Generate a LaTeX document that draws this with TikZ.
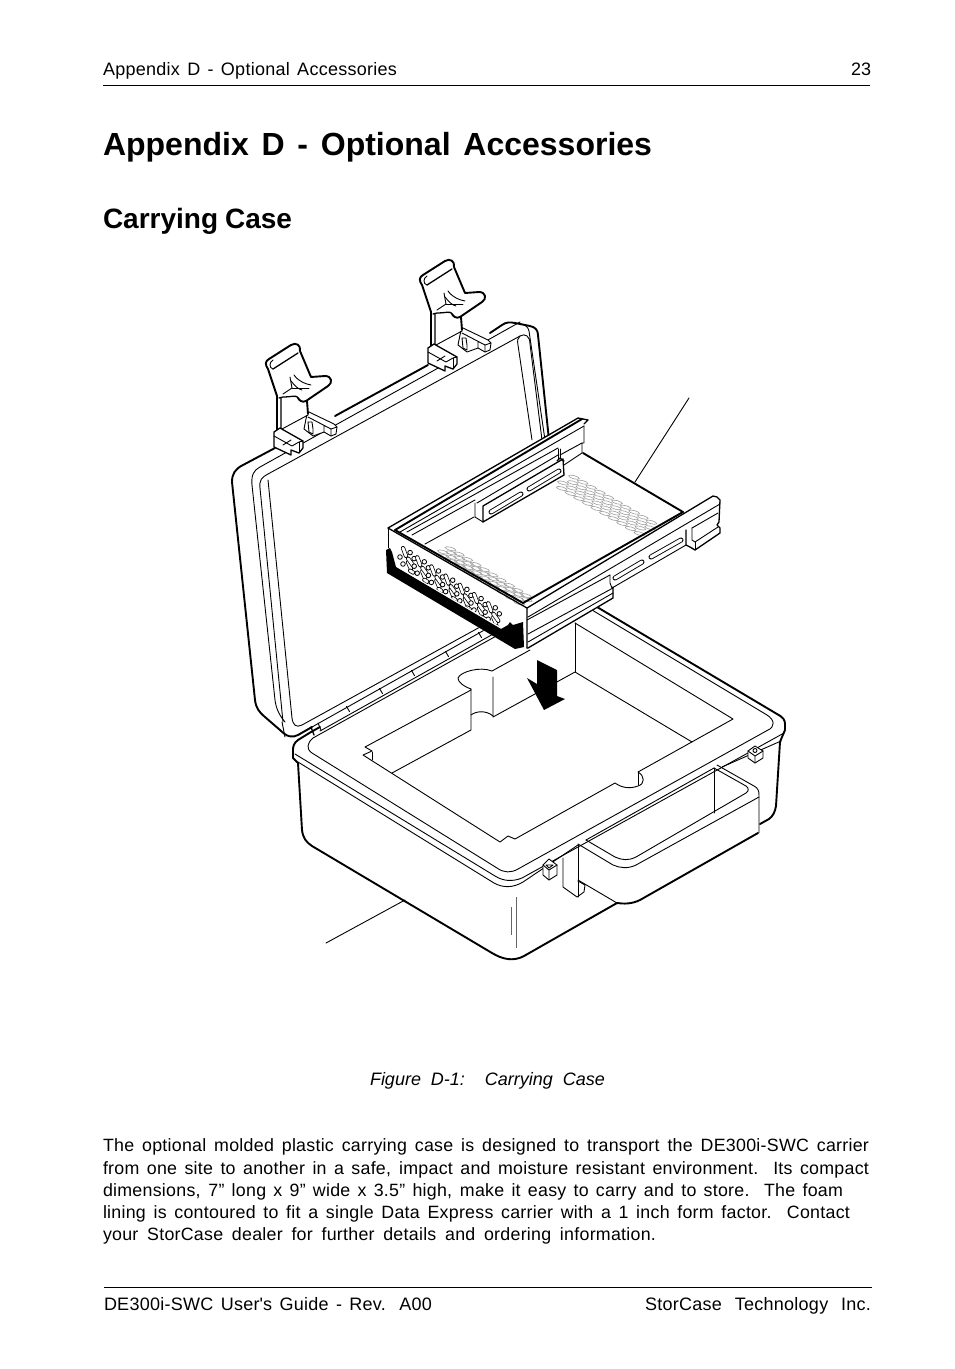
\documentclass[tikz,border=0pt]{standalone}
\usepackage{fontspec}
\setmainfont{Liberation Sans}
\newfontfamily\bodyf[LetterSpace=1.5]{Liberation Sans}
\newcommand{\strq}{\XeTeXglyph\XeTeXcharglyph"27\relax}
\tikzset{
  x=1pt,y=-1pt,
  fin/.style={line width=0.9pt,line join=round,line cap=round},
  med/.style={line width=1.3pt,line join=round,line cap=round},
  hvy/.style={line width=1.9pt,line join=round,line cap=round},
  txt/.style={anchor=base west,inner sep=0pt,outer sep=0pt},
  mold/.style={line width=0.9pt,black!60},
  rule/.style={line width=0.9pt},
  vent/.style={line width=0.8pt},
  mesh/.style={line width=0.6pt,black!38},
  latchpic/.pic={
    % rear block
    \draw[fin,fill=white] (461,330)--(463,328)--(488,340)--(491,343)--(490,350)--(485,352)--(478,348)--(467,352)--(458,345)--cycle;
    \draw[fin] (462,333)--(485,345)--(491,343) (485,345)--(485,352) (478,342)--(478,348);
    % body
    \fill[white] (422,285) .. controls (419,281) and (419,277) .. (423,275) -- (445,261) .. controls (450,258) and (455,261) .. (454,267)
       -- (465,293) -- (479,292) .. controls (486,292) and (487,299) .. (482,302) -- (460,317) -- (462,330) -- (436,346) -- (431,346) -- (431,312) -- cycle;
    \draw[hvy] (431,346) -- (431,312) -- (422,285) .. controls (419,281) and (419,277) .. (423,275) -- (445,261) .. controls (450,258) and (455,261) .. (454,267)
       -- (465,293) -- (479,292) .. controls (486,292) and (487,299) .. (482,302) -- (460,317) .. controls (456,319) and (453,316) .. (452,314);
    \draw[med] (452,313.5) .. controls (450,311) and (445,313) .. (437,313) -- (433,314) (435,314)--(435,345);
    \draw[hvy] (461,317)--(462,330);
    \draw[fin] (427,285) .. controls (423,284) and (423,278) .. (427,276);
    \draw[med] (427,285)--(452,269);
    \draw[fin] (444,293)--(446,304)--(437,310);
    \draw[fin] (446,304)--(463,304);
    \draw[fin] (448,291) .. controls (453,298) and (460,300) .. (465,301);
    \draw[fin] (445,297) .. controls (449,302) and (452,305) .. (456,306);
    % front block
    \draw[fin] (436,345)--(462,331);
    \draw[med,fill=white] (428,348)--(434,344)--(457,357)--(457,364)--(453,369)--(445,366)--(445,371)--(428,363)--cycle;
    \draw[fin] (428,352)--(446,362)--(453,358)--(457,357);
    \draw[fin] (453,358)--(453,369);
    \draw[fin] (437,361)--(445,356);
    \draw[fin,fill=white] (462,338)--(466,338)--(467,345)--(467,350)--(463,348)--cycle;
  }
}
\newcommand{\capsule}[4]{%
  \draw[line width=5pt,line cap=round] (#1,#2)--(#3,#4);
  \draw[white,line width=3.2pt,line cap=round] (#1,#2)--(#3,#4);}
\newcommand{\ventcap}[4]{%
  \draw[line width=4.2pt,line cap=round] (#1,#2)--(#3,#4);
  \draw[white,line width=2.7pt,line cap=round] (#1,#2)--(#3,#4);}
\begin{document}
\begin{tikzpicture}
\useasboundingbox (0,0) rectangle (954,1369);
% ---- page text
\node[txt] (runhead) at (103,75) {\fontsize{18}{20}\selectfont\bodyf\makebox[294pt][s]{Appendix D - Optional Accessories}};
\node[txt] (pageno) at (851,75) {\fontsize{18}{20}\selectfont 23};
\draw[rule] (103,85)--(870,85);
\node[txt] (title) at (103,155) {\fontsize{32}{36}\selectfont\bfseries\makebox[549pt][s]{Appendix D - Optional Accessories}};
\node[txt] (heading) at (103,228) {\fontsize{28}{30}\selectfont\bfseries\makebox[189pt][s]{Carrying Case}};
\node[txt] (caption) at (370,1085) {\fontsize{18}{20}\selectfont\itshape\makebox[235pt][s]{Figure D-1:\ \ Carrying Case}};
\node[txt] (b1) at (103,1151) {\fontsize{17.8}{20}\selectfont\bodyf\makebox[766pt][s]{The optional molded plastic carrying case is designed to transport the DE300i-SWC carrier}};
\node[txt] (b2) at (103,1174) {\fontsize{17.8}{20}\selectfont\bodyf\makebox[766pt][s]{from one site to another in a safe, impact and moisture resistant environment.\ \ Its compact}};
\node[txt] (b3) at (103,1196) {\fontsize{17.8}{20}\selectfont\bodyf\makebox[740pt][s]{dimensions, 7” long x 9” wide x 3.5” high, make it easy to carry and to store.\ \ The foam}};
\node[txt] (b4) at (103,1218) {\fontsize{17.8}{20}\selectfont\bodyf\makebox[747pt][s]{lining is contoured to fit a single Data Express carrier with a 1 inch form factor.\ \ Contact}};
\node[txt] (b5) at (103,1240) {\fontsize{17.8}{20}\selectfont\bodyf\makebox[553pt][s]{your StorCase dealer for further details and ordering information.}};
\draw[rule] (104,1287)--(872,1287);
\node[txt] (footl) at (104,1310) {\fontsize{18}{20}\selectfont\bodyf\makebox[328pt][s]{DE300i-SWC User\strq s Guide - Rev. A00}};
\node[txt] (footr) at (645,1310) {\fontsize{18}{20}\selectfont\bodyf\makebox[226pt][s]{StorCase Technology Inc.}};

% ---- leaders
\coordinate (leadA) at (689,398); \coordinate (leadAe) at (635,482);
\coordinate (leadB) at (326,943); \coordinate (leadBe) at (405,900);
\draw[fin] (leadA)--(leadAe);
\draw[fin] (leadB)--(leadBe);

% ---- lid
\draw[hvy] (275,448)--(243,465) .. controls (235,469) and (232,474) .. (232,482)
  -- (255,700) .. controls (256,708) and (259,712) .. (265,717) -- (280,730) .. controls (287,737) and (292,738) .. (298,735) -- (312,727);
\draw[hvy] (428,365)--(335,416);
\draw[hvy] (490,333)--(502,325) .. controls (506,322) and (510,322) .. (515,323)--(530,326) .. controls (535,327) and (538,330) .. (538,335) -- (549,440);
\draw[fin] (252,485) .. controls (251,475) and (254,470) .. (260,467) -- (278,457);
\draw[fin] (278,457)--(440,367);
\draw[fin] (470,350)--(520,322);
\draw[fin] (521,324) .. controls (526,325) and (528,327) .. (529,331) -- (545,440);
\draw[fin] (260,488) .. controls (259,480) and (262,477) .. (268,474) -- (520,336) .. controls (525,333) and (530,336) .. (530,344) -- (542,440);
\draw[fin] (520,336) .. controls (518,338) and (517,340) .. (518,345) -- (532,440);
\draw[fin] (252,485) -- (275,700) .. controls (276,708) and (279,715) .. (285,722);
\draw[fin] (282,722) -- (285,737);
\draw[fin] (260,488) -- (283,722) ;
\draw[fin] (268,480) -- (292,718) .. controls (293,725) and (296,728) .. (302,725) -- (500,616);
\draw[fin] (312,727)--(520,610);
\draw[fin] (320,731)--(520,619);
\foreach \tx/\ty in {348/709,381/691,413/673,447/654,480/635}
  \draw[fin] (\tx-1.5,\ty-2.5)--(\tx+1.5,\ty+2.5);
\draw[fin] (318,723)--(321,730);
\draw[med] (311,727)--(314,735);

% ---- case base
\draw[hvy] (320,727)--(311,732)--(298,740) .. controls (294,743) and (293,746) .. (293,750) -- (293,758) -- (298,763)
   -- (302,830) .. controls (303,838) and (306,842) .. (312,846) -- (492,953) .. controls (502,959) and (513,962) .. (524,956) -- (617,903) ;
\draw[hvy] (597,607)--(777,714) .. controls (783,717) and (785,720) .. (785,724) -- (785,730) -- (782,737) -- (780,742) -- (776,806) .. controls (775,812) and (773,816) .. (769,819) -- (760,824);
\draw[fin] (592,610)--(767,715) .. controls (775,720) and (775,727) .. (768,730) -- (518,869) .. controls (511,873) and (504,873) .. (497,868) -- (312,753) .. controls (306,749) and (307,743) .. (313,738)--(525,620);
\draw[fin] (784,733)--(522,878) .. controls (512,882) and (503,881) .. (495,876) -- (295,754);
\draw[fin] (781,741)--(722,767);
\draw[fin] (714,768)--(586,840);
\draw[fin] (578,845)--(523,882) .. controls (513,888) and (503,888) .. (494,883) -- (298,762);
% mold lines
\draw[mold] (516,897)--(516,948);
\draw[mold] (511,907)--(511,935);
% foam cavity
\draw[fin] (575,623)--(733,719)--(638,772)
   .. controls (645,776) and (645,784) .. (638,786) .. controls (630,789) and (622,788) .. (615,783)
   -- (515,839) -- (508,836) -- (500,842) -- (363,755) -- (372,751) -- (365,747) -- (471,690) -- (471,689)
   .. controls (463,686) and (458,682) .. (458,678) .. controls (460,672) and (480,666) .. (492,671) -- (530,650);
\draw[fin] (372,752)--(372,760);
\draw[fin] (471,689)--(471,730)--(392,773);
\draw[fin] (471,715) .. controls (476,711) and (486,710) .. (493,716);
\draw[fin] (493,677)--(493,717)--(575,672)--(692,742);
\draw[fin] (575,623)--(575,672);
\draw[fin] (638,772)--(638,785);
% arrow
\fill (537,660)--(557,670)--(557,696)--(565,699)--(544,710)--(527,678)--(537,684)--cycle;
% handle
\draw[fin] (717,765)--(754,786) .. controls (758,788) and (759,791) .. (759,795) -- (759,833);
\draw[hvy] (758,833)--(640,900) .. controls (632,904) and (624,904) .. (617,903);
\draw[fin] (759,797)--(636,865) .. controls (628,869) and (620,868) .. (613,865) -- (578,844);
\draw[fin] (714,768)--(746,786) .. controls (749,788) and (749,791) .. (746,793) -- (636,857) .. controls (628,861) and (622,860) .. (615,857) -- (586,840);
\draw[fin] (714,768)--(714,813);
\draw[fin] (578,845)--(578,897);
\draw[fin] (578,880)--(617,903);
\draw[fin] (563,858)--(563,887)--(577,897)--(584,892)--(585,885)--(578,881);
% small clasps
\draw[fin,fill=white] (748,751)--(755,746)--(763,751)--(763,758)--(755,763)--(748,758)--cycle;
\draw[fin] (748,751)--(755,756)--(763,751) (755,756)--(755,763);
\draw[fin] (755,750.5) circle (2);
\draw[fin,fill=white] (543,865)--(549,859)--(557,865)--(557,875)--(549,880)--(543,875)--cycle;
\draw[fin] (543,865)--(549,870)--(557,865) (549,870)--(549,880);
\draw[fin] (549,865)--(553,865)--(549,868)--(546,865)--cycle;

% ---- carrier
\fill[white] (387,528)--(582,417)--(590,420)--(585,453)--(683,512)--(718,496)--(721,535)--(695,551)--(613,598)--(528,650)--(515,649)--(387,573)--cycle;
% mesh bands
\foreach \i in {0,...,19}{
  \pgfmathtruncatemacro{\odd}{mod(\i,2)}
  \foreach \j in {0,1}{
    \draw[mesh] ({443+\i*4.2+\j*7.5-\odd*3.5},{552+\i*2.6-\j*3.2+\odd*1.5}) ellipse[x radius=5.5,y radius=1.6,rotate=-15];
    \draw[mesh] ({563+\i*4.3+\j*11-\odd*5.5},{483+\i*2.5-\j*5.8+\odd*3}) ellipse[x radius=5.5,y radius=1.6,rotate=-15];
  }
}
% black bezel
\fill (386,550)--(390,548)--(392,552)--(396,567)--(501,629)--(508,625)--(510,622)--(513,625)--(523,622)--(524,647)--(515,649)--(387,573)--cycle;
% face
\draw[med] (388,528)--(527,608)--(527,648);
\draw[fin] (388,528)--(388,548);
% vents
\begin{scope}
\clip (390,530)--(525,610)--(525,620)--(508,621)--(501,627)--(396,565.5)--cycle;
\foreach \i in {0,...,13}{
  \pgfmathsetmacro{\bx}{403+7.1*\i}\pgfmathsetmacro{\by}{548+4.6*\i}
  \pgfmathtruncatemacro{\ev}{mod(\i,2)}
  \ifnum\ev=0
    \ventcap{\bx}{\by}{\bx+3}{\by+8}
    \draw[vent,fill=white] (\bx-3,\by+9) circle (2.3);
    \draw[vent,fill=white] (\bx,\by+16) circle (2.3);
    \ventcap{\bx+5}{\by+14}{\bx+8}{\by+21}
  \else
    \draw[vent,fill=white] (\bx,\by) circle (2.3);
    \ventcap{\bx-2}{\by+6}{\bx+3}{\by+13}
    \draw[vent,fill=white] (\bx+4,\by+6) circle (2.3);
    \ventcap{\bx}{\by+18}{\bx+3}{\by+20}
  \fi
}
\end{scope}
\draw[fin] (396,568)--(503,631);
% top and inner edges
\draw[med] (388,528)--(578,418)--(588,420)--(584,424);
\draw[hvy] (395,530)--(582,419);
\draw[hvy] (395,530)--(523,603);
\draw[hvy] (523,603)--(683,512);
\draw[hvy] (583,453)--(683,512);
% back rail detail
\draw[fin] (400,532)--(584,426);
\draw[fin] (407,532)--(558,448);
\draw[fin] (412,535)--(475,500);
\draw[fin] (425,544)--(474,517);
\draw[fin] (477,503)--(558,455);
\draw[fin] (584,426)--(584,443)--(582,443)--(582,453)--(564,465);
\draw[fin] (560,455)--(582,443);
\draw[fin] (475,503)--(475,517)--(483,522);
\draw[med,fill=white] (483,506)--(563,459)--(564,475)--(483,522)--cycle;
\draw[fin] (558,449)--(558,460) (560,449)--(560,459);
\draw[med] (557,461)--(560,458)--(564,461);
\capsule{491}{512}{521}{494}
\capsule{529}{489}{559}{471}
% front rail
\draw[med] (527,608)--(713,496)--(717,497)--(720,500)--(719,522)--(717,525)--(720,528)--(720,533)--(695,550)--(690,547)--(686,545)--(686,530);
\draw[fin] (528,617)--(720,504);
\draw[fin] (527,620)--(610,575);
\draw[fin] (610,575)--(610,583)--(612,588)--(686,545);
\draw[fin] (692,528)--(718,513);
\draw[fin] (692,528)--(692,540)--(695,542)--(718,527);
\draw[fin] (695,542)--(695,550);
\capsule{615}{578}{642}{562}
\capsule{651}{557}{681}{540}
\draw[fin] (528,634)--(613,588);
\draw[fin] (528,642)--(613,593);
\draw[med] (613,587)--(613,598)--(528,648)--(527,648);

% ---- latches
\pic at (-154,84) {latchpic};
\pic at (0,0) {latchpic};
\end{tikzpicture}
\end{document}
